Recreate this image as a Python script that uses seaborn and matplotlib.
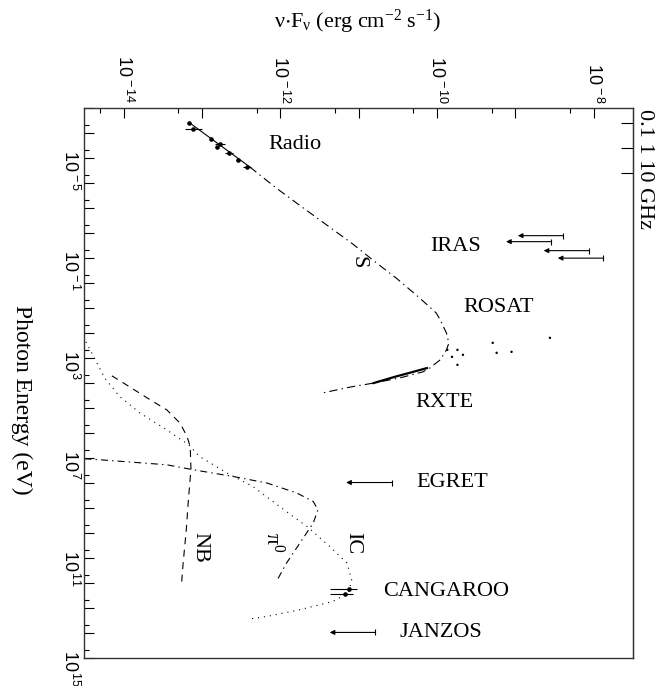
import numpy as np
import pandas as pd
import matplotlib
matplotlib.use("Agg")
import matplotlib.pyplot as plt
import matplotlib.ticker as ticker
import seaborn as sns

# values: log10(E / eV) and log10(nuFnu / erg cm^-2 s^-1)
radio_logE = [-6.41, -6.15, -5.75, -5.56, -5.43, -5.21, -4.92, -4.65]
radio_logF = [-13.16, -13.11, -12.88, -12.77, -12.81, -12.65, -12.54, -12.42]
radio_err = [0.0, 0.11, 0.0, 0.06, 0.0, 0.05, 0.03, 0.05]

sync_logE = [-6.41, -4.64, -3.79, -3.05, -2.32, -1.59, -0.79, -0.19, 0.61, 1.21, 1.48,
             2.01, 2.41, 2.68, 3.08, 3.40, 3.56, 3.80, 4.01, 4.17, 4.41]
sync_logF = [-13.16, -12.39, -12.05, -11.73, -11.41, -11.09, -10.77, -10.52, -10.22, -10.01, -9.96,
             -9.88, -9.85, -9.88, -9.96, -10.09, -10.18, -10.47, -10.81, -11.11, -11.47]

rxte_logE = [3.41, 3.60, 3.76, 4.01]
rxte_logF = [-10.13, -10.35, -10.54, -10.81]

rosat_logE = [2.68, 2.96, 2.68, 2.88, 3.28, 2.40, 2.80, 2.76, 2.20]
rosat_logF = [-9.87, -9.81, -9.74, -9.67, -9.74, -9.29, -9.24, -9.05, -8.56]

ic_logE = [2.36, 3.81, 4.55, 5.21, 5.88, 6.48, 6.95, 7.61, 8.15, 8.95, 9.75, 10.55,
           11.21, 11.88, 12.41, 12.75, 13.08, 13.35, 13.45]
ic_logF = [-14.48, -14.24, -14.05, -13.79, -13.45, -13.17, -13.03, -12.68, -12.35, -12.01,
           -11.66, -11.37, -11.15, -11.09, -11.13, -11.33, -11.75, -12.17, -12.39]

nb_logE = [3.72, 4.01, 4.68, 5.08, 5.61, 6.15, 6.55, 7.48, 8.55, 9.88, 11.21, 12.01]
nb_logF = [-14.15, -14.00, -13.66, -13.45, -13.28, -13.19, -13.15, -13.14, -13.17, -13.20, -13.24, -13.26]

pi0_logE = [7.04, 7.08, 7.28, 7.48, 7.75, 8.01, 8.41, 8.75, 9.08, 9.61, 10.41, 11.21, 11.95]
pi0_logF = [-14.50, -14.30, -13.45, -13.11, -12.60, -12.17, -11.79, -11.58, -11.52, -11.58,
            -11.75, -11.92, -12.05]

# upper limits (IRAS x4, EGRET, JANZOS)
ul_logE = [-1.89, -1.65, -1.29, -0.99, 7.99, 13.99]
ul_logF = [-8.39, -8.54, -8.06, -7.88, -10.58, -10.79]

cang_logE = [12.25, 12.45]
cang_logF = [-11.13, -11.18]
cang_lo = [-11.36, -11.36]
cang_hi = [-11.02, -11.07]

ghz_ticks = [0.1, 1, 10]
EV_PER_GHZ = 4.1357e-6

labels = ["Radio", "IRAS", "ROSAT", "RXTE", "EGRET", "CANGAROO", "JANZOS"]
label_logE = [-5.52, -1.44, 1.0, 4.8, 8.0, 12.36, 14.0]
label_logF = [-11.82, -9.76, -9.22, -9.90, -9.81, -9.89, -9.95]

curve_labels = ["S", "IC", "NB", r"$\mathregular{\pi^{0}}$"]
curve_label_logE = [-0.84, 10.4, 10.6, 10.4]
curve_label_logF = [-11.01, -11.07, -13.03, -12.10]

FLUX_LIM = (10 ** -14.5, 10 ** -7.5)
ENERGY_LIM = (1e15, 1e-7)


def frame(logE, logF):
    return pd.DataFrame({"flux": 10 ** np.array(logF), "energy": 10 ** np.array(logE)})


plt.rcParams["font.family"] = ["Liberation Serif", "DejaVu Serif"]
plt.rcParams["mathtext.fontset"] = "custom"
plt.rcParams["mathtext.rm"] = "Liberation Serif"
plt.rcParams["mathtext.it"] = "Liberation Serif:italic"
plt.rcParams["mathtext.sf"] = "Liberation Sans"
plt.rcParams["lines.scale_dashes"] = False

fig = plt.figure(figsize=(6.62, 6.86), dpi=100)
ax = fig.add_axes([0.1275, 0.0413, 0.8287, 0.8013])
ax.set_xscale("log")
ax.set_yscale("log")
ax.set_xlim(*FLUX_LIM)
ax.set_ylim(*ENERGY_LIM)

lw = 0.8
# synchrotron: solid through radio, dash-dot beyond
sns.lineplot(data=frame(sync_logE[:2], sync_logF[:2]), x="flux", y="energy", sort=False,
             estimator=None, color="k", lw=lw, ax=ax)
sns.lineplot(data=frame(sync_logE[1:], sync_logF[1:]), x="flux", y="energy", sort=False,
             estimator=None, color="k", lw=lw, linestyle=(0, (6, 3, 1, 3)), ax=ax)
sns.lineplot(data=frame(ic_logE, ic_logF), x="flux", y="energy", sort=False,
             estimator=None, color="k", lw=lw, linestyle=(0, (0.8, 3.5)), ax=ax)
sns.lineplot(data=frame(nb_logE, nb_logF), x="flux", y="energy", sort=False,
             estimator=None, color="k", lw=lw, linestyle=(0, (5, 4)), ax=ax)
sns.lineplot(data=frame(pi0_logE, pi0_logF), x="flux", y="energy", sort=False,
             estimator=None, color="k", lw=lw, linestyle=(0, (5, 3, 1, 3)), ax=ax)
sns.lineplot(data=frame(rxte_logE, rxte_logF), x="flux", y="energy", sort=False,
             estimator=None, color="k", lw=1.6, ax=ax)

# radio points
rf = 10 ** np.array(radio_logF)
re = 10 ** np.array(radio_logE)
rerr = np.array(radio_err)
ax.errorbar(rf, re, xerr=[rf - rf * 10 ** -rerr, rf * 10 ** rerr - rf], fmt="o", ms=2.3,
            color="k", lw=0.8, capsize=0)
sns.scatterplot(data=frame(rosat_logE, rosat_logF), x="flux", y="energy", s=3, color="k",
                edgecolor="none", ax=ax)

# CANGAROO
cf = 10 ** np.array(cang_logF)
ax.errorbar(cf, 10 ** np.array(cang_logE),
            xerr=[cf - 10 ** np.array(cang_lo), 10 ** np.array(cang_hi) - cf],
            fmt="o", ms=2.3, color="k", lw=0.8, capsize=0)

# upper limits
for le, lf in zip(ul_logE, ul_logF):
    ax.annotate("", xy=(10 ** (lf - 0.58), 10 ** le), xytext=(10 ** lf, 10 ** le),
                arrowprops=dict(arrowstyle="-|>", lw=0.8, color="k", mutation_scale=7,
                                shrinkA=0, shrinkB=0))
    ax.plot(10 ** lf, 10 ** le, marker="|", ms=5, mew=0.8, color="k")

for t, le, lf in zip(labels, label_logE, label_logF):
    ax.text(10 ** lf, 10 ** le, t, ha="center", va="center", fontsize=16)
for t, le, lf in zip(curve_labels, curve_label_logE, curve_label_logF):
    ax.text(10 ** lf, 10 ** le, t, ha="center", va="center", fontsize=16, rotation=-90)

ax.set_xlabel("")
ax.set_ylabel("")


# ticks
def fmt_flux(v, pos):
    if not (FLUX_LIM[0] * 0.99 <= v <= FLUX_LIM[1] * 1.01):
        return ""
    e = int(round(np.log10(v)))
    return r"$\mathsf{10^{\,%d}}$" % e if e % 2 == 0 else ""


def fmt_energy(v, pos):
    if not (ENERGY_LIM[1] * 0.99 <= v <= ENERGY_LIM[0] * 1.01):
        return ""
    e = int(round(np.log10(v)))
    return r"$\mathsf{10^{\,%d}}$" % e if (e + 5) % 4 == 0 else ""


ax.xaxis.tick_top()
ax.xaxis.set_major_locator(ticker.LogLocator(base=10, numticks=40))
ax.xaxis.set_minor_locator(ticker.LogLocator(base=10, subs=[5], numticks=40))
ax.yaxis.set_major_locator(ticker.LogLocator(base=10, numticks=40))
ax.yaxis.set_minor_locator(ticker.LogLocator(base=10, subs=[5], numticks=40))
ax.xaxis.set_major_formatter(ticker.FuncFormatter(fmt_flux))
ax.yaxis.set_major_formatter(ticker.FuncFormatter(fmt_energy))
ax.xaxis.set_minor_formatter(ticker.NullFormatter())
ax.yaxis.set_minor_formatter(ticker.NullFormatter())
ax.tick_params(which="major", direction="in", length=7, width=0.8, labelsize=13,
               top=True, bottom=False, left=True, right=False, pad=3)
ax.tick_params(which="minor", direction="in", length=3.6, width=0.8,
               top=True, bottom=False, left=True, right=False)
for lab in ax.get_xticklabels() + ax.get_yticklabels():
    lab.set_rotation(-90)

sec = ax.secondary_yaxis("right", functions=(lambda e: e / EV_PER_GHZ, lambda g: g * EV_PER_GHZ))
sec.set_yticks(ghz_ticks)
sec.yaxis.set_minor_locator(ticker.NullLocator())
sec.set_yticklabels([])
sec.tick_params(direction="in", length=9, width=0.8)

for s in ax.spines.values():
    s.set_linewidth(1.0)
    s.set_color("#333333")

fig.text(0.540, 0.968, r"$\mathregular{\nu{\cdot}F_{\nu}\ (erg\ cm^{-2}\ s^{-1})}$",
         ha="center", va="center", fontsize=16)
fig.text(0.033, 0.417, "Photon Energy (eV)", ha="center", va="center", fontsize=17, rotation=-90)
fig.text(0.974, 0.754, "0.1 1 10 GHz", ha="center", va="center", fontsize=16, rotation=-90)

fig.savefig("out.png", dpi=100)
